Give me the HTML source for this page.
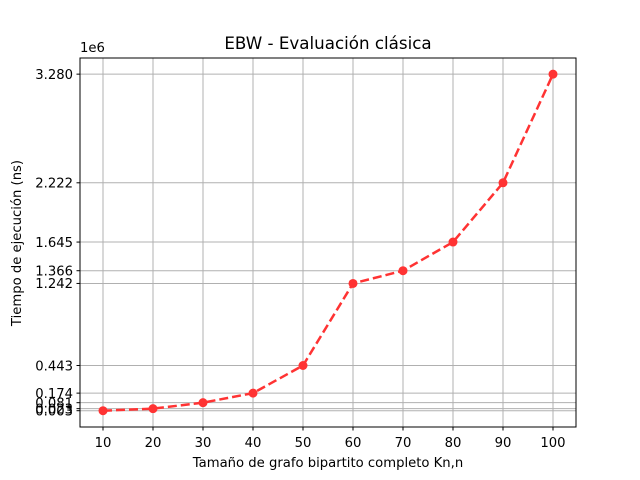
<!DOCTYPE html>
<html><head><meta charset="utf-8"><style>body{margin:0;background:#fff}svg{display:block;font-family:"DejaVu Sans","Liberation Sans",sans-serif}</style></head>
<body>
<svg id="chart" width="640" height="480" xmlns="http://www.w3.org/2000/svg">
<rect width="640" height="480" fill="#fff"/>
<g id="grid"></g>
<g id="series"></g>
<rect x="80" y="58" width="496" height="369" fill="none" stroke="#000" stroke-width="1"/>
<g id="ticks"></g>
<text x="328" y="49" font-size="16.7" text-anchor="middle">EBW - Evaluación clásica</text>
<text x="328" y="467" font-size="13.2" text-anchor="middle">Tamaño de grafo bipartito completo Kn,n</text>
<text transform="translate(21,243) rotate(-90)" font-size="13.2" text-anchor="middle">Tiempo de ejecución (ns)</text>
<text x="80" y="52" font-size="13.2">1e6</text>
</svg>
<script>
const categories=[10,20,30,40,50,60,70,80,90,100];
const values=[0.003,0.023,0.081,0.174,0.443,1.242,1.366,1.645,2.222,3.280];
const yTickLabels=["0.003","0.023","0.081","0.174","0.443","1.242","1.366","1.645","2.222","3.280"];
const NS="http://www.w3.org/2000/svg";
const xs=v=>103+(v-10)*5;
const ys=v=>411-v*102.7;
const grid=document.getElementById('grid'),ticks=document.getElementById('ticks'),series=document.getElementById('series');
function mk(tag,attrs,parent){const e=document.createElementNS(NS,tag);for(const k in attrs)e.setAttribute(k,attrs[k]);parent.appendChild(e);return e;}
categories.forEach(c=>{
 const x=xs(c);
 const g=mk('line',{x1:x,x2:x,y1:58,y2:427,stroke:'#b0b0b0','stroke-width':1},grid);
 
 
 const t=mk('line',{x1:x,x2:x,y1:427,y2:430.5,stroke:'#000','stroke-width':1},ticks);
 
 
 const l=mk('text',{x:x,y:447,'font-size':13.2,'text-anchor':'middle'},ticks);
 l.textContent=c;
 
 
});
yTickLabels.forEach(s=>{
 const y=ys(parseFloat(s));
 const g=mk('line',{x1:80,x2:576,y1:y,y2:y,stroke:'#b0b0b0','stroke-width':1},grid);
 
 
 const t=mk('line',{x1:76.5,x2:80,y1:y,y2:y,stroke:'#000','stroke-width':1},ticks);
 
 
 const l=mk('text',{x:73,y:y+4.8,'font-size':13.2,'text-anchor':'end'},ticks);
 l.textContent=s;
 
 
});
const pts=categories.map((c,i)=>xs(c)+','+ys(values[i])).join(' ');
const pl=mk('polyline',{points:pts,fill:'none',stroke:'#ff3333','stroke-width':2.5,'stroke-dasharray':'9,4'},series);


categories.forEach((c,i)=>{
 const m=mk('circle',{cx:xs(c),cy:ys(values[i]),r:4.5,fill:'#ff3333'},series);
 
 
});
</script>
</body></html>
